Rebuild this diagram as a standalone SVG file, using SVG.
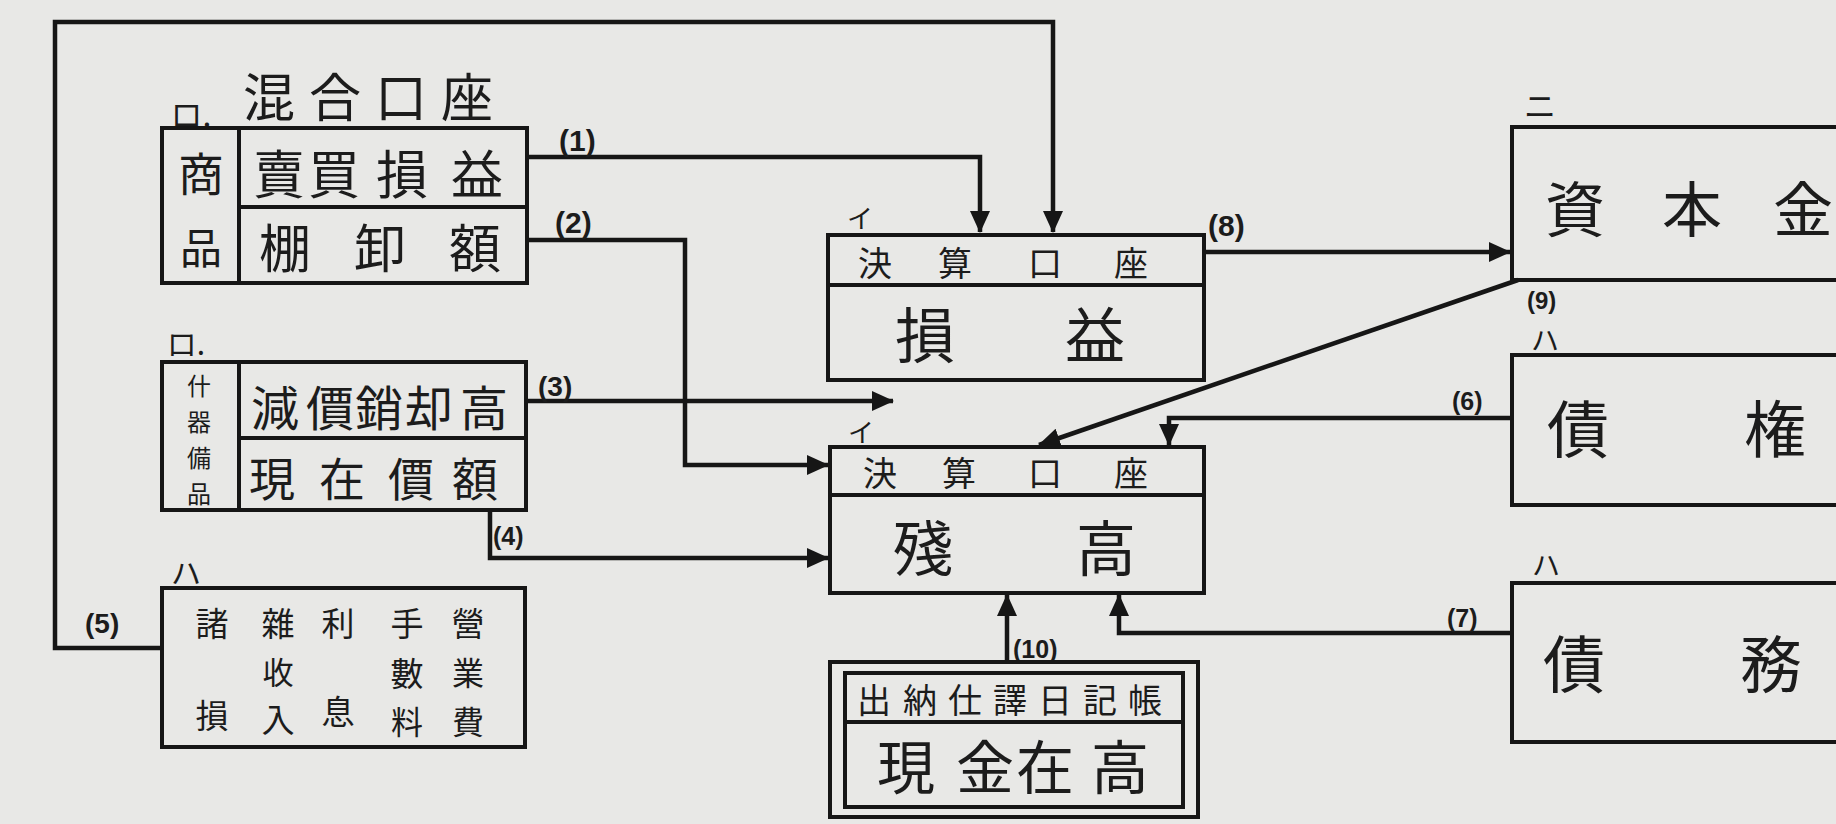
<svg xmlns="http://www.w3.org/2000/svg" width="1836" height="824" viewBox="0 0 1836 824">
<style>
.bg{fill:#e8e8e6}
.box{fill:none;stroke:#161616;stroke-width:4;stroke-linejoin:miter}
.ln{fill:none;stroke:#161616;stroke-width:4.5;stroke-linejoin:miter}
.t{font-family:"Noto Sans CJK JP","Noto Sans CJK SC",sans-serif;fill:#1c1c1c;text-anchor:middle;dominant-baseline:central}
.n{font-family:"Liberation Sans",Arial,sans-serif;fill:#1c1c1c;font-weight:bold}
</style>
<defs>
<marker id="ah" markerUnits="userSpaceOnUse" markerWidth="22" markerHeight="20" refX="21" refY="10" orient="auto">
<path d="M0,0 L22,10 L0,20 Z" fill="#161616"/>
</marker>
</defs>
<rect class="bg" x="0" y="0" width="1836" height="824"/>

<g id="connectors">
<path class="ln" d="M163,648 H55 V22 H1053 V232" marker-end="url(#ah)"/>
<path class="ln" d="M527,157 H980 V232" marker-end="url(#ah)"/>
<path class="ln" d="M527,240 H685 V465 H828" marker-end="url(#ah)"/>
<path class="ln" d="M526,401 H893" marker-end="url(#ah)"/>
<path class="ln" d="M490,510 V558 H828" marker-end="url(#ah)"/>
<path class="ln" d="M1512,418 H1169 V445" marker-end="url(#ah)"/>
<path class="ln" d="M1512,633 H1119 V595" marker-end="url(#ah)"/>
<path class="ln" d="M1204,252 H1510" marker-end="url(#ah)"/>
<path class="ln" d="M1518,280 L1039,445" marker-end="url(#ah)"/>
<path class="ln" d="M1007,662 V595" marker-end="url(#ah)"/>
<text class="n" x="559" y="151" font-size="30">(1)</text>
<text class="n" x="555" y="233" font-size="30">(2)</text>
<text class="n" x="538" y="396" font-size="28">(3)</text>
<text class="n" x="493" y="545" font-size="25">(4)</text>
<text class="n" x="85" y="633" font-size="28">(5)</text>
<text class="n" x="1452" y="410" font-size="25">(6)</text>
<text class="n" x="1447" y="627" font-size="25">(7)</text>
<text class="n" x="1208" y="236" font-size="30">(8)</text>
<text class="n" x="1527" y="309" font-size="24">(9)</text>
<text class="n" x="1013" y="658" font-size="25">(10)</text>
</g>

<g id="mixed-title">
<text class="t" x="191" y="113" font-size="32">ロ.</text>
<text class="t" x="375" y="94" font-size="52" letter-spacing="14">混合口座</text>
</g>

<g id="goods">
<rect class="box" x="162" y="128" width="365" height="155"/>
<line class="box" x1="239" y1="128" x2="239" y2="283"/>
<line class="box" x1="239" y1="207" x2="527" y2="207"/>
<text class="t" x="201" y="171" font-size="46">商</text>
<text class="t" x="201" y="245" font-size="42">品</text>
<text class="t" x="279 334 402 477" y="171" font-size="52">賣買損益</text>
<text class="t" x="285 380 475" y="245" font-size="52">棚卸額</text>
</g>

<g id="fixtures">
<text class="t" x="186" y="342" font-size="30">ロ.</text>
<rect class="box" x="162" y="362" width="364" height="148"/>
<line class="box" x1="239" y1="362" x2="239" y2="510"/>
<line class="box" x1="239" y1="438" x2="526" y2="438"/>
<text class="t" x="199" y="384" font-size="24">什</text>
<text class="t" x="199" y="420" font-size="24">器</text>
<text class="t" x="199" y="456" font-size="24">備</text>
<text class="t" x="199" y="492" font-size="24">品</text>
<text class="t" x="275 330 379 429 484" y="405" font-size="48">減價銷却高</text>
<text class="t" x="272 342 411 475" y="476" font-size="46">現在價額</text>
</g>

<g id="expenses">
<text class="t" x="186" y="571" font-size="30">ハ</text>
<rect class="box" x="162" y="588" width="363" height="159"/>
<text class="t" x="212" y="622" font-size="33">諸</text>
<text class="t" x="212" y="714" font-size="33">損</text>
<text class="t" x="278" y="622" font-size="33">雜</text>
<text class="t" x="278" y="670" font-size="31">收</text>
<text class="t" x="278" y="718" font-size="33">入</text>
<text class="t" x="338" y="622" font-size="33">利</text>
<text class="t" x="338" y="710" font-size="33">息</text>
<text class="t" x="407" y="622" font-size="33">手</text>
<text class="t" x="407" y="672" font-size="33">數</text>
<text class="t" x="407" y="720" font-size="32">料</text>
<text class="t" x="468" y="622" font-size="33">營</text>
<text class="t" x="468" y="671" font-size="32">業</text>
<text class="t" x="468" y="720" font-size="32">費</text>
</g>

<g id="profit-loss">
<text class="t" x="860" y="216" font-size="26">イ</text>
<rect class="box" x="828" y="235" width="376" height="145"/>
<line class="box" x1="828" y1="285" x2="1204" y2="285"/>
<text class="t" x="875 955 1045 1131" y="261" font-size="34">決算口座</text>
<text class="t" x="925 1095" y="331" font-size="60">損益</text>
</g>

<g id="balance">
<text class="t" x="861" y="430" font-size="26">イ</text>
<rect class="box" x="830" y="447" width="374" height="146"/>
<line class="box" x1="830" y1="495" x2="1204" y2="495"/>
<text class="t" x="880 959 1045 1131" y="471" font-size="34">決算口座</text>
<text class="t" x="923 1106" y="544" font-size="60">殘高</text>
</g>

<g id="cash">
<rect class="box" x="830" y="662" width="368" height="155"/>
<rect class="box" x="845" y="673" width="338" height="134" stroke-width="3.5"/>
<line class="box" x1="845" y1="722" x2="1183" y2="722" stroke-width="3.5"/>
<text class="t" x="874 920 965 1010 1055 1100 1145" y="698" font-size="34">出納仕譯日記帳</text>
<text class="t" x="906 985 1045 1120" y="764" font-size="58">現金在高</text>
</g>

<g id="capital">
<text class="t" x="1540" y="104" font-size="32">ニ</text>
<rect class="box" x="1512" y="127" width="360" height="153"/>
<text class="t" x="1575 1692 1803" y="205" font-size="60">資本金</text>
</g>

<g id="receivables">
<text class="t" x="1545" y="339" font-size="28">ハ</text>
<rect class="box" x="1512" y="355" width="360" height="150"/>
<text class="t" x="1578 1775" y="426" font-size="62">債権</text>
</g>

<g id="liabilities">
<text class="t" x="1546" y="564" font-size="28">ハ</text>
<rect class="box" x="1512" y="583" width="360" height="159"/>
<text class="t" x="1574 1771" y="661" font-size="62">債務</text>
</g>
</svg>
